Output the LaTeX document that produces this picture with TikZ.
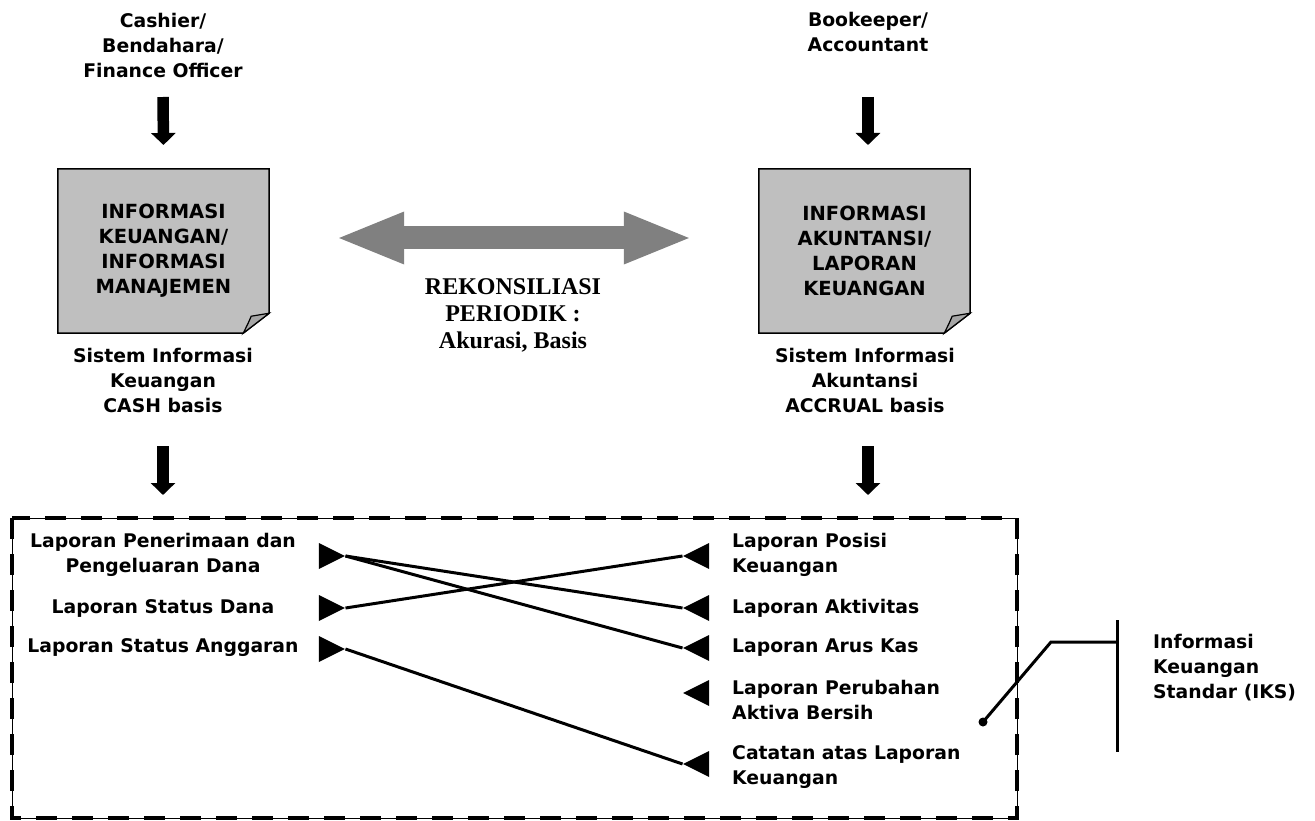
\documentclass[tikz,border=0pt]{standalone}
\usepackage{fontspec}
\setmainfont{DejaVu Sans}
\newfontfamily\rekonfont{Liberation Serif}
\usetikzlibrary{arrows.meta,shapes.geometric,backgrounds}

\begin{document}
\begin{tikzpicture}[x=1pt,y=-1pt,
    txt/.style={font=\bfseries\fontsize{18.8}{25}\selectfont,align=center,inner sep=0pt},
    note/.style={txt,font=\bfseries\fontsize{19.5}{25}\selectfont,minimum width=211pt,minimum height=164pt},
    downarrow/.style={line width=11.5pt,-{Triangle[width=24pt,length=12pt]}},
    tri/.style={isosceles triangle,isosceles triangle stretches,fill=black,inner sep=0pt,minimum width=26pt,minimum height=26pt},
    tril/.style={tri,shape border rotate=0},
    trir/.style={tri,shape border rotate=180},
    link/.style={line width=3pt}]

\useasboundingbox (0,0) rectangle (1315,821);

% top: who prepares
        \node (cashier) [txt] at (163,45) {Cashier/\\Bendahara/\\Finance Officer};
        \node (bookkeeper) [txt] at (868,32) {Bookeeper/\\Accountant};

        \node (infoL) [note] at (163.5,251) {INFORMASI\\KEUANGAN/\\INFORMASI\\MANAJEMEN};
        \node (infoR) [note] at (864.5,251) {INFORMASI\\AKUNTANSI/\\LAPORAN\\KEUANGAN};

        \begin{scope}[on background layer]
        \foreach \b in {infoL,infoR}{
            \draw[line width=1.5pt,fill=black!25] (\b.north west) -- (\b.north east) -- ([yshift=20pt]\b.south east)
                -- ([xshift=-26pt]\b.south east) -- (\b.south west) -- cycle;
            \draw[line width=1.2pt,fill=black!35] ([xshift=-26pt]\b.south east) .. controls ([xshift=-21pt,yshift=10pt]\b.south east)
                .. ([xshift=-18pt,yshift=17pt]\b.south east) -- ([yshift=20pt]\b.south east) -- cycle;
        }
        \end{scope}

        \draw[downarrow] (cashier |- 0,97) -- (infoL |- 0,145);
        \draw[downarrow] (bookkeeper |- 0,97) -- (bookkeeper |- 0,145);

        \draw[line width=23pt,black!50,{Triangle[width=47pt,length=69pt]}-{Triangle[width=47pt,length=69pt]},
            shorten <=66pt,shorten >=66pt] ([yshift=13pt]infoL.east) -- ([yshift=13pt]infoR.west);
        \node (rekon) [font=\rekonfont\bfseries\fontsize{24}{27}\selectfont,align=center,inner sep=0pt] at (513,315)
            {REKONSILIASI\\PERIODIK :\\Akurasi, Basis};

        \node (sisL) [txt] at (163,380) {Sistem Informasi\\Keuangan\\CASH basis};
        \node (sisR) [txt] at (865,380) {Sistem Informasi\\Akuntansi\\ACCRUAL basis};

        \draw[downarrow] (sisL |- 0,446) -- (sisL |- 0,495);
        \draw[downarrow] (bookkeeper |- 0,446) -- (bookkeeper |- 0,495);

% the reports
        \draw[thin] (12,518) rectangle (1017,818);
        \draw[line width=4pt,dash pattern=on 21pt off 15pt] (12,518) rectangle (1017,818);

        \node (lp1) [txt] at (163,555) {Laporan Penerimaan dan\\Pengeluaran Dana};
        \node (lp2) [txt] at (163,608) {Laporan Status Dana};
        \node (lp3) [txt] at (163,648) {Laporan Status Anggaran};

        \foreach \n/\y in {1/556,2/608,3/649}
            \node (tl\n) [tril] at (327,\y) {};
        \foreach \n/\y in {1/556,2/608,3/648,4/693,5/764}
            \node (tr\n) [trir] at (701,\y) {};

        \node (rp1) [txt,anchor=west,align=left] at (732,555) {Laporan Posisi\\Keuangan};
        \node (rp2) [txt,anchor=west,align=left] at (732,608) {Laporan Aktivitas};
        \node (rp3) [txt,anchor=west,align=left] at (732,648) {Laporan Arus Kas};
        \node (rp4) [txt,anchor=west,align=left] at (732,700) {Laporan Perubahan\\Aktiva Bersih};
        \node (rp5) [txt,anchor=west,align=left] at (732,767) {Catatan atas Laporan\\Keuangan};

        \draw[link] (tl1.apex) -- (tr2.apex);
        \draw[link] (tl1.apex) -- (tr3.apex);
        \draw[link] (tl2.apex) -- (tr1.apex);
        \draw[link] (tl3.apex) -- (tr5.apex);

% IKS bracket
        \node (iksdot) [circle,fill,inner sep=0pt,minimum size=9pt] at (983,722) {};
        \coordinate (iksbend) at (1051,642);
        \coordinate (ikstop) at (1117,620);
        \coordinate (iksbot) at (1117,752);
        \draw[link] (ikstop) -- (iksbot);
        \draw[link] (iksdot.center) -- (iksbend) -- (ikstop |- iksbend);
        \node (iks) [txt,anchor=west,align=left] at (1153,668) {Informasi\\Keuangan\\Standar (IKS)};

\end{tikzpicture}
\end{document}
